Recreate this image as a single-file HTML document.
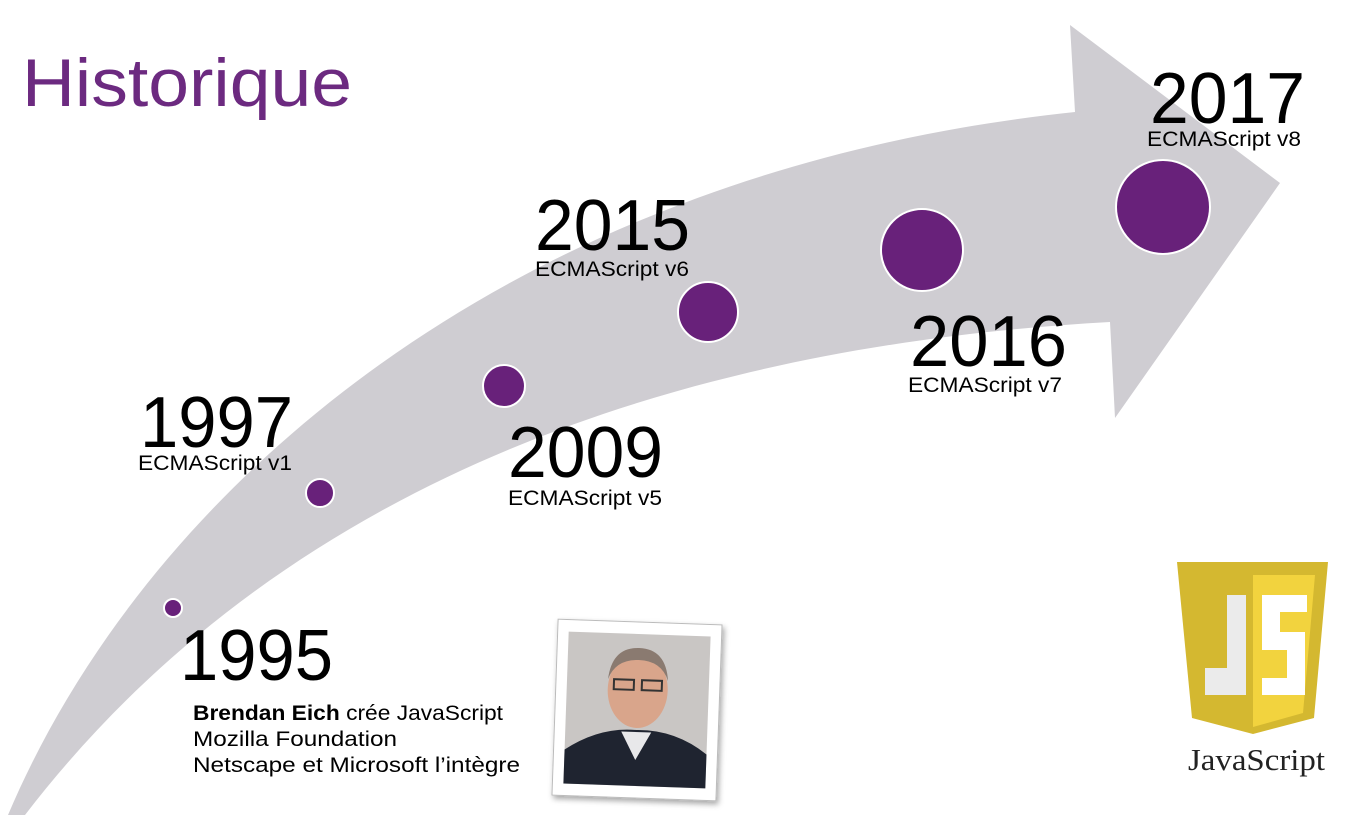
<!DOCTYPE html>
<html><head><meta charset="utf-8"><style>
body{margin:0;width:1366px;height:817px;background:#fff;overflow:hidden;font-family:"Liberation Sans",sans-serif}
svg{position:absolute;left:0;top:0}
</style></head><body>
<svg width="1366" height="817" viewBox="0 0 1366 817">
<defs><filter id="sh" x="-20%" y="-20%" width="140%" height="140%"><feDropShadow dx="2" dy="3" stdDeviation="3" flood-opacity="0.35"/></filter></defs>
<path d="M8,815 C150,480 520,170 1075,112 L1070,25 L1280,183 L1115,418 L1110,322 C700,345 290,470 25,815 Z" fill="#cfcdd2"/>
<text x="22" y="106" font-size="68" fill="#6c2a80" textLength="330" lengthAdjust="spacingAndGlyphs">Historique</text>
<g fill="#68217a" stroke="#fff" stroke-width="2">
<circle cx="173" cy="608" r="9"/>
<circle cx="320" cy="493" r="14"/>
<circle cx="504" cy="386" r="21"/>
<circle cx="708" cy="312" r="30"/>
<circle cx="922" cy="250" r="41"/>
<circle cx="1163" cy="207" r="47"/>
</g>
<g fill="#000">
<text x="180" y="680" font-size="72" textLength="153" lengthAdjust="spacingAndGlyphs">1995</text>
<text x="140" y="447" font-size="72" textLength="153" lengthAdjust="spacingAndGlyphs">1997</text>
<text x="138" y="470" font-size="21" textLength="154" lengthAdjust="spacingAndGlyphs">ECMAScript v1</text>
<text x="508" y="477" font-size="72" textLength="155" lengthAdjust="spacingAndGlyphs">2009</text>
<text x="508" y="505" font-size="21" textLength="154" lengthAdjust="spacingAndGlyphs">ECMAScript v5</text>
<text x="535" y="250" font-size="72" textLength="155" lengthAdjust="spacingAndGlyphs">2015</text>
<text x="535" y="276" font-size="21" textLength="154" lengthAdjust="spacingAndGlyphs">ECMAScript v6</text>
<text x="910" y="366" font-size="72" textLength="157" lengthAdjust="spacingAndGlyphs">2016</text>
<text x="908" y="392" font-size="21" textLength="154" lengthAdjust="spacingAndGlyphs">ECMAScript v7</text>
<text x="1150" y="123" font-size="72" textLength="155" lengthAdjust="spacingAndGlyphs">2017</text>
<text x="1147" y="146" font-size="21" textLength="154" lengthAdjust="spacingAndGlyphs">ECMAScript v8</text>
<text x="193" y="720" font-size="21" textLength="310" lengthAdjust="spacingAndGlyphs"><tspan font-weight="bold">Brendan Eich</tspan> crée JavaScript</text>
<text x="193" y="746" font-size="21" textLength="204" lengthAdjust="spacingAndGlyphs">Mozilla Foundation</text>
<text x="193" y="772" font-size="21" textLength="327" lengthAdjust="spacingAndGlyphs">Netscape et Microsoft l’intègre</text>
</g>
<g transform="rotate(2 637 710)">
<rect x="555" y="622" width="164" height="176" fill="#fff" stroke="#bbb" filter="url(#sh)"/>
<rect x="566" y="634" width="142" height="152" fill="#c9c6c4"/>
<path d="M566,786 L566,752 Q600,728 637,730 Q676,728 708,752 L708,786 Z" fill="#1f2430"/>
<path d="M622,732 L637,760 L652,732 Z" fill="#e8e8ea"/>
<ellipse cx="637" cy="690" rx="30" ry="38" fill="#d9a58b"/>
<path d="M607,680 Q610,648 637,648 Q664,648 667,680 Q660,660 637,660 Q614,660 607,680Z" fill="#8a7a70"/>
<rect x="613" y="680" width="20" height="10" fill="none" stroke="#333" stroke-width="2"/>
<rect x="641" y="680" width="20" height="10" fill="none" stroke="#333" stroke-width="2"/>
</g>
<g>
<path d="M1177,562 L1328,562 L1314,718 L1253,734 L1192,718 Z" fill="#d4b830"/>
<path d="M1253,575 L1315,575 L1303,713 L1253,727 Z" fill="#f2d33e"/>
<path d="M1210,595 L1246,595 L1246,695 L1205,695 L1205,668 L1227,668 L1227,595 Z" fill="#ebebeb"/>
<path d="M1262,595 L1307,595 L1307,612 L1280,612 L1280,632 L1305,632 L1305,695 L1262,695 L1262,678 L1287,678 L1287,650 L1262,650 Z" fill="#fff"/>
<text x="1188" y="770" font-family="Liberation Serif,serif" font-size="31" fill="#222" textLength="137" lengthAdjust="spacingAndGlyphs">JavaScript</text>
</g>
</svg>
</body></html>
